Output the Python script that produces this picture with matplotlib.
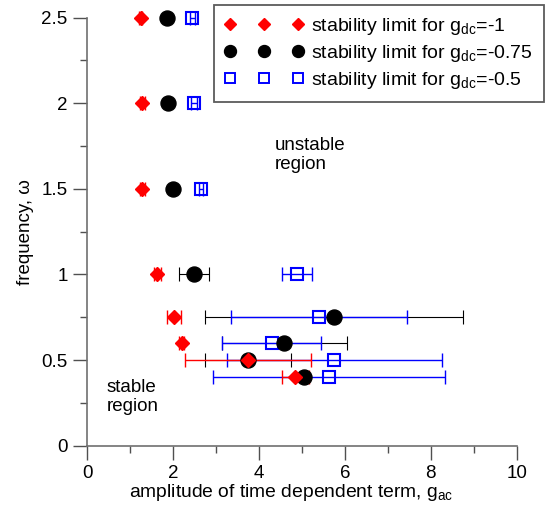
import matplotlib
matplotlib.use("Agg")
import matplotlib.pyplot as plt
from matplotlib.lines import Line2D
from matplotlib.ticker import MultipleLocator

plt.rcParams['font.family'] = ['Liberation Sans', 'DejaVu Sans']
plt.rcParams['mathtext.fontset'] = 'custom'
plt.rcParams['mathtext.rm'] = 'Liberation Sans'

# data: frequency omega and stability-limit amplitude g_ac with x-errors
freq_m1 = [2.5, 2.0, 1.5, 1.0, 0.75, 0.6, 0.5, 0.4]
gac_m1 = [1.25, 1.29, 1.29, 1.64, 2.02, 2.20, 3.75, 4.85]
err_m1 = [0.04, 0.06, 0.05, 0.09, 0.17, 0.06, 1.47, 0.31]

freq_m075 = [2.5, 2.0, 1.5, 1.0, 0.75, 0.6, 0.5, 0.4]
gac_m075 = [1.85, 1.89, 1.99, 2.50, 5.75, 4.59, 3.74, 5.06]
err_m075 = [0.0, 0.0, 0.0, 0.35, 3.0, 1.45, 1.0, 0.05]

freq_m05 = [2.5, 2.0, 1.5, 1.0, 0.75, 0.6, 0.5, 0.4]
gac_m05 = [2.45, 2.49, 2.65, 4.89, 5.39, 4.30, 5.75, 5.64]
err_m05 = [0.06, 0.07, 0.05, 0.35, 2.05, 1.15, 2.5, 2.7]

labels = [r'stability limit for g$_\mathregular{dc}$=-1',
          r'stability limit for g$_\mathregular{dc}$=-0.75',
          r'stability limit for g$_\mathregular{dc}$=-0.5']

RED = '#ff0000'
BLUE = '#0000ff'
BLACK = '#000000'
FS = 13.5

fig = plt.figure(figsize=(5.49, 5.14), dpi=100)
ax = fig.add_axes([0.1585, 0.1329, 0.7827, 0.8327])

# blue squares
ax.errorbar(gac_m05, freq_m05, xerr=err_m05, fmt='none', ecolor=BLUE,
            elinewidth=1.0, capsize=5, capthick=1.0, zorder=2.1, clip_on=False)
ax.plot(gac_m05, freq_m05, linestyle='none', marker='s', markersize=9,
        markerfacecolor='none', markeredgecolor=BLUE, markeredgewidth=1.5,
        zorder=3, clip_on=False)
# black circles
ax.errorbar(gac_m075, freq_m075, xerr=err_m075, fmt='none', ecolor=BLACK,
            elinewidth=0.8, capsize=5, capthick=0.8, zorder=2.0, clip_on=False)
ax.plot(gac_m075, freq_m075, linestyle='none', marker='o', markersize=10.8,
        markerfacecolor=BLACK, markeredgecolor=BLACK, zorder=3.1, clip_on=False)
# red diamonds
ax.errorbar(gac_m1, freq_m1, xerr=err_m1, fmt='none', ecolor=RED,
            elinewidth=1.0, capsize=5, capthick=1.0, zorder=2.2, clip_on=False)
ax.plot(gac_m1, freq_m1, linestyle='none', marker='D', markersize=7.6,
        markerfacecolor=RED, markeredgecolor=RED, zorder=3.2, clip_on=False)

ax.set_xlim(0, 10)
ax.set_ylim(0, 2.5)
ax.xaxis.set_major_locator(MultipleLocator(2))
ax.xaxis.set_minor_locator(MultipleLocator(1))
ax.yaxis.set_minor_locator(MultipleLocator(0.25))
ax.set_yticks([0, 0.5, 1, 1.5, 2, 2.5])
ax.set_yticklabels(['0', '0.5', '1', '1.5', '2', '2.5'])

for s in ['top', 'right']:
    ax.spines[s].set_visible(False)
for s in ['left', 'bottom']:
    ax.spines[s].set_color('#707070')
    ax.spines[s].set_linewidth(1.2)
ax.tick_params(which='major', direction='out', length=10, width=1.0,
               color='#505050', labelsize=FS, pad=4)
ax.tick_params(which='minor', direction='out', length=5, width=1.0, color='#505050')

ax.set_xlabel(r'amplitude of time dependent term, g$_\mathregular{ac}$', fontsize=13.9, labelpad=0)
ax.xaxis.set_label_coords(0.476, -0.085)
ax.set_ylabel('frequency, ω', fontsize=FS, labelpad=5)

ax.text(4.38, 1.70, 'unstable\nregion', fontsize=FS, ha='left', va='center',
        linespacing=1.15)
ax.text(0.46, 0.285, 'stable\nregion', fontsize=FS, ha='left', va='center',
        linespacing=1.15)

handles = [
    Line2D([], [], linestyle='none', marker='D', markersize=6.1, color=RED),
    Line2D([], [], linestyle='none', marker='o', markersize=8.6, color=BLACK),
    Line2D([], [], linestyle='none', marker='s', markersize=7.2,
           markerfacecolor='none', markeredgecolor=BLUE, markeredgewidth=1.4),
]
leg = fig.legend(handles, labels, loc='upper right', bbox_to_anchor=(0.990, 0.990),
                 bbox_transform=fig.transFigure, numpoints=3, fontsize=14,
                 handlelength=4.1, handletextpad=0.37, labelspacing=0.32,
                 borderpad=0.55, borderaxespad=0.0, frameon=True, fancybox=False)
leg.get_frame().set_edgecolor('#333333')
leg.get_frame().set_linewidth(1.3)

fig.savefig('out.png', dpi=100)
